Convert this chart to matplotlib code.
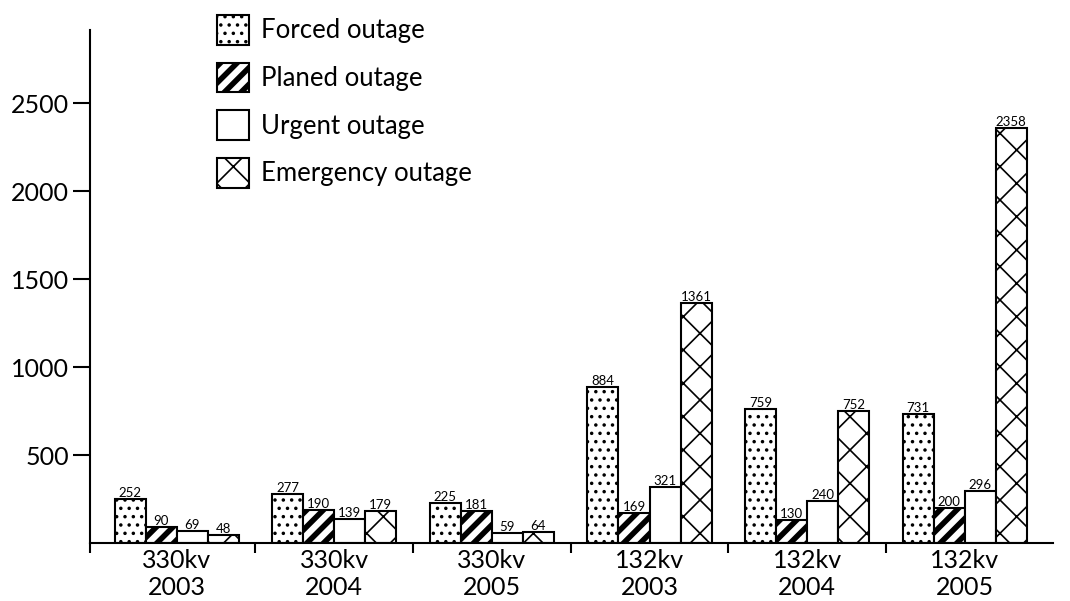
import numpy as np
import matplotlib.pyplot as plt

plt.rcParams['font.family'] = ['Lato', 'DejaVu Sans']

groups = ['330kv\n2003', '330kv\n2004', '330kv\n2005', '132kv\n2003', '132kv\n2004', '132kv\n2005']
series = ['Forced outage', 'Planed outage', 'Urgent outage', 'Emergency outage']
forced = [252, 277, 225, 884, 759, 731]
planed = [90, 190, 181, 169, 130, 200]
urgent = [69, 139, 59, 321, 240, 296]
emergency = [48, 179, 64, 1361, 752, 2358]
yticks = [500, 1000, 1500, 2000, 2500]

fig = plt.figure(figsize=(10.7, 6.01), dpi=100)
ax = fig.add_axes([90/1070, 1-543/601, (1053-90)/1070, (543-30)/601])

x = np.arange(len(groups))
w = 0.197
data = [forced, planed, urgent, emergency]
hatches = ['..', '//', '', 'x']
hatch_lw = [1.3, 4.0, 1.0, 1.2]

for k in range(4):
    with plt.rc_context({'hatch.linewidth': hatch_lw[k]}):
        bars = ax.bar(x + (k - 1.5) * w, data[k], w, facecolor='white', edgecolor='black',
                      hatch=hatches[k], linewidth=1.5, label=series[k])
    for b, v in zip(bars, data[k]):
        ax.text(b.get_x() + b.get_width() / 2, v, str(v), ha='center', va='bottom', fontsize=9.5)

ax.set_xlim(-0.55, 5.56)
ax.set_ylim(0, 2915)

for s in ['top', 'right']:
    ax.spines[s].set_visible(False)
for s in ['left', 'bottom']:
    ax.spines[s].set_linewidth(1.5)

ax.set_yticks(yticks)
ax.tick_params(axis='y', labelsize=18, length=12, width=1.5, pad=3)
ax.set_xticks(x, groups)
for t in ax.get_xticklabels():
    t.set_linespacing(1.25)
ax.tick_params(axis='x', which='major', labelsize=18, length=0, pad=4)
ax.set_xticks(np.arange(len(groups)) - 0.5 + np.array([-0.049, 0, 0, 0, 0, 0]), minor=True)
ax.tick_params(axis='x', which='minor', length=7, width=1.5)

leg = ax.legend(loc='upper left', bbox_to_anchor=(217/1070, 1 - 15/601), bbox_transform=fig.transFigure,
                frameon=False, fontsize=18.5, handlelength=1.25, handleheight=1.4, handletextpad=0.45,
                labelspacing=0.7, borderpad=0, borderaxespad=0)
for h, lw in zip(leg.legend_handles, hatch_lw):
    if hasattr(h, 'set_hatch_linewidth'):
        h.set_hatch_linewidth(lw)

fig.savefig('out.png', dpi=100)
